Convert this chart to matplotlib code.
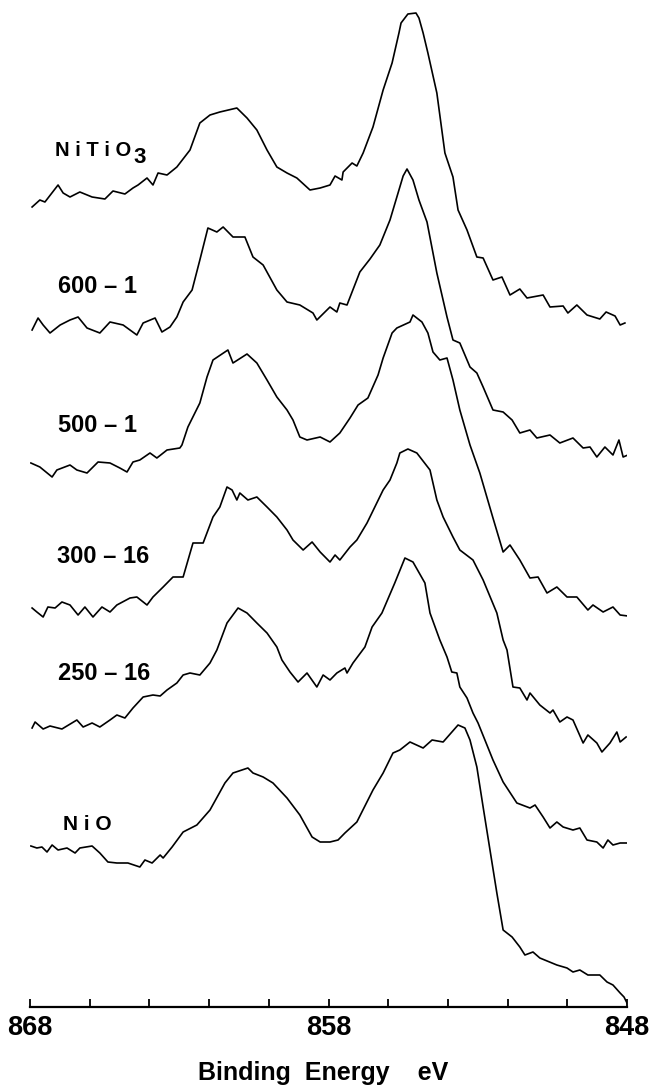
import numpy as np
import matplotlib
matplotlib.use("Agg")
import matplotlib.pyplot as plt

plt.rcParams['font.family'] = ['Liberation Sans', 'DejaVu Sans']

# Binding energies (eV) and intensities (a.u.)
nitio3_e = [867.93, 867.67, 867.50, 867.06, 866.89, 866.66, 866.33, 865.92, 865.49, 865.22,
            864.82, 864.55, 864.38, 864.08, 863.88, 863.71, 863.41, 863.08, 862.64, 862.31,
            861.97, 861.64, 861.07, 860.73, 860.40, 860.06, 859.73, 859.39, 859.06, 858.62,
            858.28, 857.95, 857.78, 857.55, 857.51, 857.21, 857.05, 856.84, 856.51, 856.17,
            855.87, 855.64, 855.57, 855.34, 855.07, 854.97, 854.83, 854.67, 854.37, 854.10,
            853.83, 853.66, 853.36, 853.03, 852.82, 852.49, 852.19, 851.92, 851.59, 851.35,
            850.81, 850.58, 850.14, 849.98, 849.68, 849.34, 848.91, 848.70, 848.40, 848.23,
            848.07]
nitio3_i = [123, 130, 128, 145, 137, 133, 138, 133, 131, 139,
            136, 142, 145, 152, 145, 157, 155, 163, 180, 207,
            215, 218, 222, 212, 200, 180, 163, 157, 152, 140,
            142, 145, 154, 150, 158, 167, 164, 177, 203, 240,
            267, 297, 307, 316, 317, 312, 297, 277, 237, 177,
            153, 120, 100, 73, 72, 50, 53, 35, 41, 32,
            35, 23, 24, 17, 25, 15, 11, 18, 14, 5,
            7]

s600_e = [867.93, 867.73, 867.56, 867.33, 866.99, 866.66, 866.39, 866.09, 865.66, 865.32,
          864.88, 864.42, 864.21, 863.81, 863.58, 863.31, 863.08, 862.87, 862.57, 862.31,
          862.04, 861.74, 861.53, 861.20, 860.80, 860.53, 860.19, 859.73, 859.39, 858.96,
          858.52, 858.39, 857.95, 857.72, 857.62, 857.38, 856.95, 856.61, 856.28, 855.94,
          855.71, 855.50, 855.37, 855.17, 854.97, 854.70, 854.37, 854.03, 853.83, 853.60,
          853.26, 853.03, 852.82, 852.49, 852.15, 851.85, 851.59, 851.25, 851.02, 850.58,
          850.25, 849.81, 849.47, 849.24, 849.01, 848.74, 848.47, 848.27, 848.13, 847.97]
s600_i = [130, 142, 135, 127, 135, 140, 143, 132, 127, 138,
          135, 125, 137, 142, 128, 133, 143, 158, 170, 200,
          232, 228, 233, 223, 223, 203, 195, 170, 158, 155,
          147, 140, 153, 148, 157, 155, 188, 201, 215, 240,
          263, 284, 291, 280, 260, 238, 187, 143, 120, 117,
          93, 87, 73, 50, 48, 40, 27, 30, 22, 25,
          17, 22, 12, 13, 3, 13, 5, 20, 3, 5]

s500_e = [867.97, 867.67, 867.26, 867.10, 866.66, 866.43, 866.09, 865.72, 865.32, 864.99,
          864.75, 864.55, 864.32, 863.98, 863.75, 863.41, 862.98, 862.91, 862.71, 862.31,
          862.07, 861.87, 861.37, 861.20, 860.73, 860.40, 860.06, 859.73, 859.39, 859.19,
          858.96, 858.72, 858.28, 857.95, 857.62, 857.28, 857.01, 856.68, 856.34, 856.17,
          855.87, 855.71, 855.27, 855.17, 854.87, 854.67, 854.50, 854.27, 854.03, 853.83,
          853.60, 853.26, 852.93, 852.49, 852.15, 851.92, 851.59, 851.25, 850.98, 850.68,
          850.35, 850.01, 849.68, 849.31, 849.14, 848.80, 848.47, 848.23, 847.97]
s500_i = [157, 153, 143, 150, 155, 150, 147, 158, 157, 152,
          148, 158, 160, 167, 162, 170, 172, 175, 193, 217,
          243, 260, 270, 257, 266, 257, 240, 223, 210, 200,
          183, 180, 183, 178, 187, 202, 215, 222, 245, 262,
          287, 292, 298, 305, 298, 287, 268, 260, 262, 240,
          210, 175, 147, 102, 68, 75, 60, 42, 43, 27,
          33, 23, 23, 10, 15, 8, 13, 5, 4]

s300_e = [867.93, 867.77, 867.56, 867.40, 867.16, 866.93, 866.66, 866.39, 866.16, 865.89,
          865.59, 865.32, 865.09, 864.65, 864.42, 864.08, 863.88, 863.54, 863.21, 862.87,
          862.54, 862.20, 861.87, 861.64, 861.40, 861.23, 861.07, 860.97, 860.70, 860.40,
          860.06, 859.73, 859.39, 859.19, 858.85, 858.55, 858.28, 857.95, 857.78, 857.62,
          857.28, 857.05, 856.71, 856.17, 855.94, 855.71, 855.61, 855.34, 855.04, 854.60,
          854.37, 854.16, 853.83, 853.60, 853.16, 852.82, 852.36, 852.15, 852.02, 851.82,
          851.59, 851.35, 851.25, 850.92, 850.58, 850.48, 850.25, 850.01, 849.81, 849.47,
          849.31, 849.01, 848.84, 848.57, 848.34, 848.23, 848.03]
s300_i = [152, 148, 143, 153, 152, 158, 155, 145, 153, 143,
          153, 148, 155, 162, 163, 155, 163, 173, 183, 183,
          217, 217, 243, 253, 273, 270, 260, 267, 260, 263,
          253, 243, 230, 220, 210, 218, 208, 198, 205, 200,
          213, 220, 237, 270, 280, 297, 307, 311, 307, 290,
          260, 243, 223, 210, 200, 180, 147, 120, 110, 73,
          72, 60, 67, 55, 47, 50, 38, 43, 40, 17,
          25, 17, 8, 17, 28, 18, 23]

s250_e = [867.93, 867.83, 867.56, 867.33, 866.93, 866.43, 866.22, 865.92, 865.66, 865.32,
          865.09, 864.82, 864.55, 864.21, 863.88, 863.64, 863.41, 863.08, 862.87, 862.64,
          862.31, 861.97, 861.74, 861.40, 861.03, 860.73, 860.40, 860.06, 859.73, 859.56,
          859.29, 859.02, 858.72, 858.39, 858.18, 857.95, 857.72, 857.45, 857.38, 857.18,
          856.78, 856.54, 856.21, 855.78, 855.44, 855.17, 854.77, 854.60, 854.27, 854.03,
          853.87, 853.70, 853.60, 853.36, 853.16, 852.99, 852.76, 852.49, 852.15, 851.69,
          851.25, 851.08, 850.81, 850.58, 850.35, 850.14, 849.81, 849.58, 849.34, 849.01,
          848.80, 848.64, 848.47, 848.23, 848.00]
s250_i = [122, 128, 121, 124, 121, 130, 123, 127, 123, 130,
          135, 132, 142, 153, 155, 154, 160, 167, 175, 177,
          175, 187, 200, 227, 242, 237, 227, 217, 203, 190,
          178, 168, 177, 163, 175, 170, 177, 182, 177, 187,
          203, 223, 237, 267, 292, 288, 267, 237, 210, 193,
          178, 177, 163, 152, 137, 127, 110, 90, 68, 47,
          42, 45, 33, 22, 28, 23, 20, 22, 10, 8,
          2, 10, 5, 7, 7]

nio_e = [867.97, 867.77, 867.60, 867.43, 867.26, 867.06, 866.76, 866.49, 866.33, 865.92,
         865.66, 865.39, 865.09, 864.72, 864.32, 864.15, 863.91, 863.64, 863.54, 863.24,
         862.87, 862.41, 861.97, 861.47, 861.20, 860.70, 860.53, 860.19, 859.86, 859.39,
         858.96, 858.55, 858.28, 857.95, 857.68, 857.45, 857.05, 856.51, 856.17, 855.84,
         855.61, 855.27, 854.83, 854.53, 854.16, 853.66, 853.43, 853.26, 853.03, 852.82,
         852.59, 852.36, 852.15, 851.85, 851.59, 851.42, 851.15, 850.92, 850.35, 850.01,
         849.81, 849.58, 849.31, 848.91, 848.67, 848.47, 848.23, 848.10, 848.00]
nio_i = [161, 159, 160, 155, 162, 157, 159, 154, 159, 161,
         154, 145, 144, 144, 140, 147, 144, 152, 149, 160,
         175, 182, 197, 224, 234, 239, 234, 230, 224, 209,
         192, 170, 165, 165, 167, 174, 185, 217, 234, 254,
         257, 265, 259, 267, 265, 282, 279, 267, 240, 200,
         157, 114, 77, 70, 60, 52, 55, 49, 42, 39,
         35, 37, 32, 32, 25, 22, 14, 10, 4]

energies = [nitio3_e, s600_e, s500_e, s300_e, s250_e, nio_e]
intensities = [nitio3_i, s600_i, s500_i, s300_i, s250_i, nio_i]
offsets = [677, 547, 387, 247, 157, 0]

fig = plt.figure(figsize=(6.49, 10.89), dpi=100)
ax = fig.add_axes([30 / 649, 82 / 1089, 597 / 649, 1007 / 1089])

for e, i, off in zip(energies, intensities, offsets):
    ax.plot(e, np.array(i) + off, color='black', lw=1.2)

# sample labels (left edge x in eV, baseline y in a.u.)
lab_kw = dict(fontsize=17, fontweight='bold', ha='left', va='baseline')
ax.text(867.16, 851, 'N i T i O', fontsize=14.5, fontweight='bold', ha='left', va='baseline')
ax.text(864.55, 844, '3', fontsize=16, fontweight='bold', ha='left', va='baseline')
ax.text(867.06, 714, '600 \u2013 1', **lab_kw)
ax.text(867.06, 575, '500 \u2013 1', **lab_kw)
ax.text(867.10, 444, '300 \u2013 16', **lab_kw)
ax.text(867.06, 327, '250 \u2013 16', **lab_kw)
ax.text(866.89, 177, 'N i O', fontsize=15, fontweight='bold', ha='left', va='baseline')

ax.set_xlim(868, 848)
ax.set_ylim(0, 1007)
for side in ['left', 'right', 'top']:
    ax.spines[side].set_visible(False)
ax.spines['bottom'].set_linewidth(1.6)
ax.set_yticks([])
ax.set_xticks([868, 858, 848])
ax.set_xticks(np.arange(848, 869, 2), minor=True)
ax.tick_params(axis='x', which='both', direction='in', length=6, width=1.3, pad=6)
ax.set_xticklabels(['868', '858', '848'], fontsize=19.5, fontweight='bold')

fig.text(323 / 649, 1 - 1073 / 1089, 'Binding  Energy    eV', fontsize=18,
         fontweight='bold', ha='center', va='center')

fig.savefig('out.png', dpi=100)
